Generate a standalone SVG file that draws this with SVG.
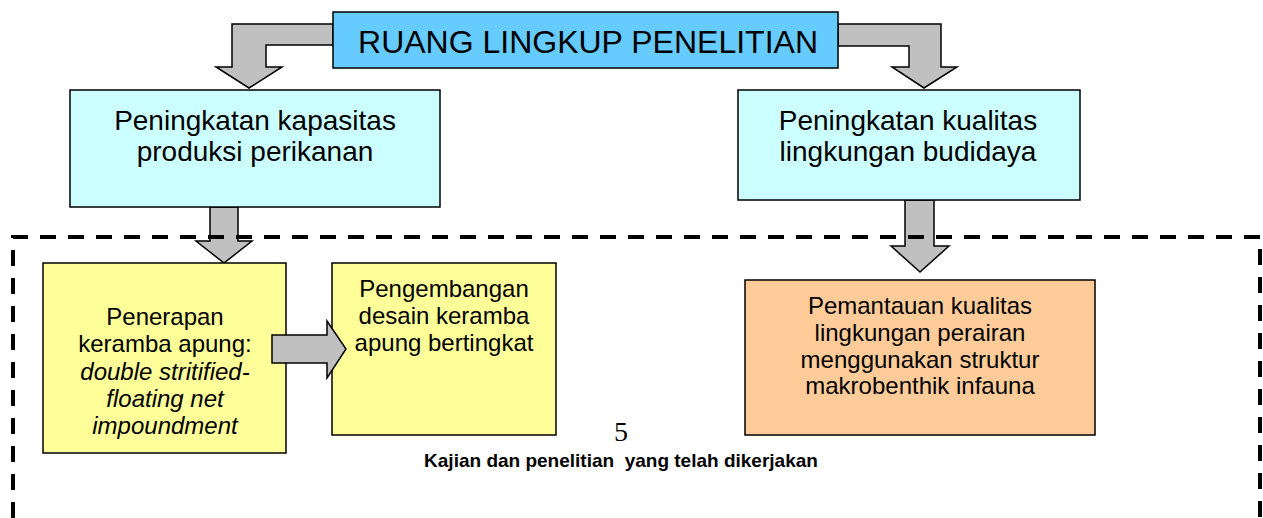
<svg xmlns="http://www.w3.org/2000/svg" width="1263" height="518" viewBox="0 0 1263 518">
<style>
.box{stroke:#000;stroke-width:1.5}
.arr{fill:#C0C0C0;stroke:#000;stroke-width:1.5;stroke-linejoin:miter}
text{font-family:"Liberation Sans",Arial,sans-serif;fill:#000;text-anchor:middle}
.t28{font-size:28px}
.t24{font-size:24px}
</style>
<rect width="1263" height="518" fill="#fff"/>
<g id="connectors">
<path class="arr" d="M333,24 H232 V67 H216 L249,88 L282,67 H266 V45 H333 Z"/>
<path class="arr" d="M838,24 H941 V67 H957 L924,88 L892,67 H909 V46 H838 Z"/>
<path class="arr" d="M210,207 V241 H196 L224,263 L252,241 H238 V207 Z"/>
<path class="arr" d="M905,200 V246 H891 L920,272 L949,246 H934 V200 Z"/>
</g>
<g id="top"><rect class="box" x="333" y="12" width="505" height="56" fill="#66CCFF"/><text x="588" y="53" style="font-size:32px">RUANG LINGKUP PENELITIAN</text></g>
<g id="left"><rect class="box" x="70" y="90" width="370" height="117" fill="#CCFFFF"/><text class="t28" x="255" y="130">Peningkatan kapasitas</text><text class="t28" x="255" y="161">produksi perikanan</text></g>
<g id="right"><rect class="box" x="738" y="90" width="342" height="110" fill="#CCFFFF"/><text class="t28" x="908" y="130">Peningkatan kualitas</text><text class="t28" x="908" y="161">lingkungan budidaya</text></g>
<path d="M13,518 V237 H1260 V518" fill="none" stroke="#000" stroke-width="4" stroke-dasharray="16,12"/>
<g id="y1"><rect class="box" x="43" y="263" width="243" height="190" fill="#FFFF99"/><text class="t24" x="165" y="325">Penerapan</text><text class="t24" x="165" y="352">keramba apung:</text><text class="t24" x="165" y="380" font-style="italic">double stritified-</text><text class="t24" x="165" y="407" font-style="italic">floating net</text><text class="t24" x="165" y="434" font-style="italic">impoundment</text></g>
<g id="y2"><rect class="box" x="332" y="263" width="224" height="172" fill="#FFFF99"/><text class="t24" x="444" y="297">Pengembangan</text><text class="t24" x="444" y="324">desain keramba</text><text class="t24" x="444" y="351">apung bertingkat</text></g>
<path class="arr" d="M272,335 H327 V321 L346,349 L327,378 V363 H272 Z"/>
<g id="orange"><rect class="box" x="745" y="280" width="350" height="155" fill="#FFCC99"/><text class="t24" x="920" y="314">Pemantauan kualitas</text><text class="t24" x="920" y="341">lingkungan perairan</text><text class="t24" x="920" y="368">menggunakan struktur</text><text class="t24" x="920" y="394">makrobenthik infauna</text></g>
<text x="621" y="441" style="font-family:'Liberation Serif',serif;font-size:28px">5</text>
<text x="621" y="467" xml:space="preserve" style="font-size:19px;font-weight:bold">Kajian dan penelitian  yang telah dikerjakan</text>
</svg>
